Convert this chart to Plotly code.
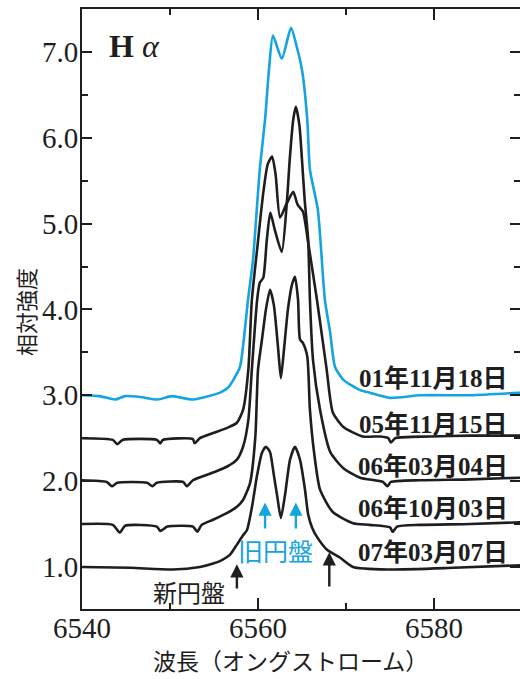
import plotly.graph_objects as go

# ---------------- data (wavelength in Angstrom, relative intensity) ----------------
wl_0111 = [6540.0, 6542.0, 6543.75, 6544.9, 6546.6, 6548.6, 6550.2, 6552.5, 6554.0, 6555.7,
           6556.6, 6557.2, 6557.95, 6558.86, 6559.43, 6560.2, 6560.8, 6561.25, 6561.7, 6562.7,
           6563.75, 6564.4, 6565.0, 6565.6, 6565.9, 6566.8, 6567.6, 6568.2, 6568.75, 6569.7,
           6571.6, 6572.7, 6575.0, 6578.4, 6584.1, 6589.8]
in_0111 = [3.00, 2.99, 2.95, 2.99, 2.98, 2.95, 2.99, 2.95, 2.98, 3.03,
           3.09, 3.18, 3.33, 4.11, 4.58, 5.63, 6.21, 6.80, 7.19, 6.92,
           7.28, 7.06, 6.79, 6.21, 5.63, 5.16, 4.11, 3.73, 3.33, 3.18,
           3.06, 3.03, 2.97, 3.00, 3.00, 3.03]

wl_0511 = [6540.0, 6543.5, 6544.0, 6544.6, 6548.5, 6548.9, 6549.2, 6552.6, 6552.8, 6553.4,
           6554.9, 6556.5, 6557.6, 6558.3, 6558.9, 6559.3, 6559.9, 6560.6, 6561.1, 6561.6,
           6562.0, 6562.5, 6563.2, 6564.0, 6564.5, 6565.1, 6565.7, 6566.7, 6567.8, 6568.5,
           6569.7, 6571.9, 6573.9, 6574.8, 6575.1, 6575.6, 6579.5, 6584.1, 6589.8]
in_0511 = [2.50, 2.48, 2.43, 2.48, 2.48, 2.44, 2.48, 2.49, 2.44, 2.50,
           2.56, 2.62, 2.68, 2.83, 3.30, 4.11, 4.70, 5.36, 5.69, 5.78,
           5.57, 5.07, 5.22, 5.37, 5.22, 5.14, 4.78, 4.11, 3.30, 2.80,
           2.63, 2.52, 2.52, 2.50, 2.45, 2.50, 2.52, 2.53, 2.53]

wl_0603 = [6540.0, 6542.8, 6543.4, 6544.0, 6547.4, 6548.0, 6548.5, 6551.5, 6551.9, 6552.6,
           6554.9, 6556.5, 6557.6, 6558.3, 6558.9, 6559.3, 6559.9, 6560.2, 6560.6, 6561.0,
           6561.4, 6561.9, 6562.7, 6563.3, 6563.6, 6564.0, 6564.3, 6564.7, 6565.0, 6565.3,
           6565.7, 6565.9, 6566.25, 6567.05, 6568.2, 6569.7, 6571.6, 6574.2, 6574.7, 6575.1,
           6578.4, 6584.1, 6589.8]
in_0603 = [2.01, 1.99, 1.94, 1.98, 1.98, 1.94, 1.98, 1.99, 1.94, 2.01,
           2.10, 2.17, 2.25, 2.40, 2.71, 3.30, 4.11, 4.31, 4.37, 4.81,
           5.13, 4.93, 4.67, 5.28, 5.74, 6.21, 6.36, 6.15, 5.74, 5.28,
           4.81, 4.11, 3.41, 2.83, 2.34, 2.15, 2.04, 1.99, 1.94, 1.99,
           2.01, 2.02, 2.04]

wl_0610 = [6540.0, 6543.5, 6544.3, 6544.9, 6548.5, 6548.9, 6549.7, 6552.6, 6553.1, 6553.6,
           6554.9, 6556.5, 6557.6, 6558.3, 6559.1, 6559.7, 6560.0, 6560.45, 6560.9, 6561.36,
           6561.8, 6562.3, 6562.6, 6562.95, 6563.4, 6563.86, 6564.2, 6564.55, 6564.77, 6565.1,
           6565.6, 6565.9, 6566.4, 6567.05, 6568.5, 6570.8, 6572.7, 6575.0, 6575.3, 6575.8,
           6578.4, 6584.1, 6589.8]
in_0610 = [1.50, 1.49, 1.40, 1.48, 1.47, 1.42, 1.47, 1.47, 1.41, 1.49,
           1.55, 1.63, 1.70, 1.78, 1.98, 2.52, 3.30, 3.65, 4.00, 4.23,
           4.05, 3.53, 3.20, 3.53, 4.00, 4.29, 4.38, 4.11, 3.65, 3.61,
           3.45, 2.83, 2.31, 1.90, 1.64, 1.51, 1.49, 1.46, 1.41, 1.47,
           1.49, 1.50, 1.52]

wl_0703 = [6540.0, 6545.5, 6550.3, 6553.4, 6554.9, 6555.9, 6556.8, 6557.6, 6558.3, 6558.75,
           6559.3, 6559.9, 6560.45, 6560.9, 6561.36, 6561.8, 6562.16, 6562.6, 6563.07, 6563.64,
           6564.2, 6564.77, 6565.34, 6565.7, 6566.14, 6566.7, 6567.84, 6569.3, 6570.8, 6574.7,
           6582.2, 6589.8]
in_0703 = [1.00, 0.99, 0.97, 1.00, 1.04, 1.08, 1.14, 1.26, 1.37, 1.43,
           1.69, 2.07, 2.33, 2.40, 2.34, 2.07, 1.84, 1.57, 1.84, 2.25,
           2.40, 2.25, 1.90, 1.61, 1.46, 1.35, 1.20, 1.11, 1.00, 0.97,
           0.99, 1.02]

series_names = ["01年11月18日", "05年11月15日", "06年03月04日", "06年10月03日", "07年03月07日"]
series_x = [wl_0111, wl_0511, wl_0603, wl_0610, wl_0703]
series_y = [in_0111, in_0511, in_0603, in_0610, in_0703]
label_y = [3.19, 2.655, 2.165, 1.676, 1.163]

BLUE = "#14a4e2"
BLACK = "#1e1e1e"
colors = [BLUE, BLACK, BLACK, BLACK, BLACK]

SERIF = "Liberation Serif, Times New Roman, serif"
SERIF_CJK = "Liberation Serif, Noto Sans CJK JP, serif"
CJK = "Noto Sans CJK JP, sans-serif"

fig = go.Figure()
for name, xs, ys, c in zip(series_names, series_x, series_y, colors):
    fig.add_trace(go.Scatter(x=xs, y=ys, mode="lines", name=name,
                             line=dict(color=c, width=2.6, shape="spline", smoothing=0.6),
                             showlegend=False, hoverinfo="skip"))

x_min, x_max = 6540.0, 6589.77
y_min, y_max = 0.51, 7.50

fig.update_layout(
    width=520, height=679,
    margin=dict(l=82, r=0, t=9, b=70),
    paper_bgcolor="white", plot_bgcolor="white",
    xaxis=dict(range=[x_min, x_max], showgrid=False, zeroline=False,
               showline=True, linecolor=BLACK, linewidth=2, mirror="ticks",
               ticks="inside", ticklen=11, tickwidth=1.6, tickcolor=BLACK,
               tick0=6540, dtick=20, ticklabelstandoff=-8,
               minor=dict(ticks="inside", ticklen=6, tickwidth=1.6, tickcolor=BLACK, dtick=10, tick0=6540),
               tickfont=dict(family=SERIF, size=29, color=BLACK)),
    yaxis=dict(range=[y_min, y_max], showgrid=False, zeroline=False,
               showline=True, linecolor=BLACK, linewidth=2, mirror=False,
               ticks="inside", ticklen=10, tickwidth=1.6, tickcolor=BLACK,
               tick0=1.0, dtick=1.0, tickformat=".1f", ticklabelstandoff=-4,
               minor=dict(ticks="inside", ticklen=6, tickwidth=1.6, tickcolor=BLACK, dtick=0.5, tick0=1.0),
               tickfont=dict(family=SERIF, size=29, color=BLACK)),
    yaxis2=dict(range=[y_min, y_max], overlaying="y", side="right", showgrid=False, zeroline=False,
                showline=False, ticks="inside", ticklen=10, tickwidth=1.6, tickcolor=BLACK,
                tick0=1.0, dtick=1.0, showticklabels=False,
                minor=dict(ticks="inside", ticklen=6, tickwidth=1.6, tickcolor=BLACK, dtick=0.5, tick0=1.0)),
)
# invisible trace so the right-hand tick axis is drawn
fig.add_trace(go.Scatter(x=[x_min], y=[y_min], yaxis="y2", mode="markers",
                         marker=dict(opacity=0), showlegend=False, hoverinfo="skip"))

# date labels
for name, ly in zip(series_names, label_y):
    fig.add_annotation(x=6588.6, y=ly, xref="x", yref="y", text="<b>%s</b>" % name,
                       showarrow=False, xanchor="right", yanchor="middle",
                       font=dict(family=SERIF_CJK, size=25, color=BLACK))

# H alpha label
fig.add_annotation(x=6542.8, y=7.07, xref="x", yref="y", text="<b>H</b> <i>α</i>",
                   showarrow=False, xanchor="left", yanchor="middle",
                   font=dict(family=SERIF, size=32, color=BLACK))

# old-disk (blue) arrows and label
for ax_ in [6560.8, 6564.3]:
    fig.add_annotation(x=ax_, y=1.75, ax=ax_, ay=1.43, xref="x", yref="y", axref="x", ayref="y",
                       text="", showarrow=True, arrowhead=2, arrowsize=1.1, arrowwidth=2.4,
                       arrowcolor=BLUE)
fig.add_annotation(x=6562.0, y=1.2, xref="x", yref="y", text="旧円盤", showarrow=False,
                   xanchor="center", yanchor="middle", font=dict(family=CJK, size=25, color=BLUE))

# new-disk (black) arrows and label
for ax_, y0, y1 in [(6557.6, 0.73, 1.03), (6568.1, 0.755, 1.17)]:
    fig.add_annotation(x=ax_, y=y1, ax=ax_, ay=y0, xref="x", yref="y", axref="x", ayref="y",
                       text="", showarrow=True, arrowhead=2, arrowsize=1.1, arrowwidth=2.4,
                       arrowcolor=BLACK)
fig.add_annotation(x=6552.2, y=0.71, xref="x", yref="y", text="新円盤", showarrow=False,
                   xanchor="center", yanchor="middle", font=dict(family=CJK, size=24, color=BLACK))

# axis titles
fig.add_annotation(x=(290 - 82) / 438, y=(609 - 660) / 600, xref="paper", yref="paper",
                   text="波長（オングストローム）", showarrow=False, xanchor="center", yanchor="middle",
                   font=dict(family=CJK, size=23, color=BLACK))
fig.add_annotation(x=(25 - 82) / 438, y=(609 - 312) / 600, xref="paper", yref="paper",
                   text="相対強度", showarrow=False, textangle=-90, xanchor="center", yanchor="middle",
                   font=dict(family=CJK, size=22, color=BLACK))

fig.write_html("out.html")
